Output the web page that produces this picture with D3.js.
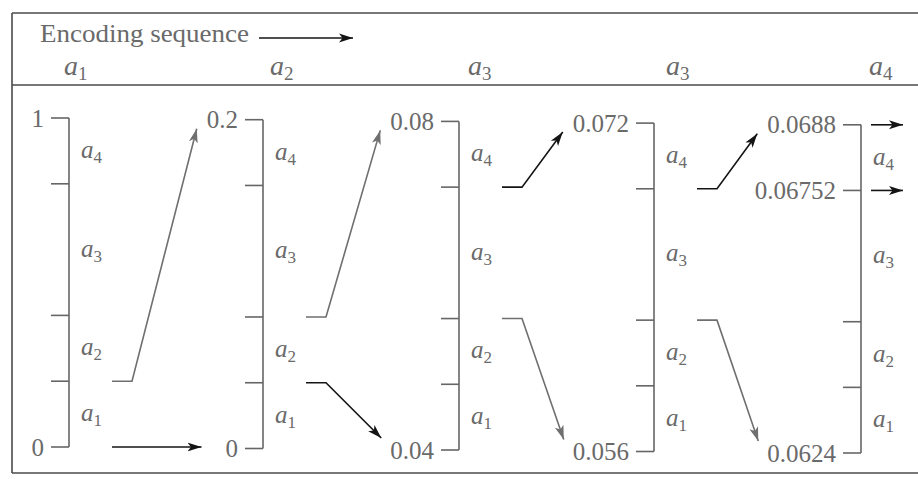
<!DOCTYPE html>
<html><head><meta charset="utf-8">
<script src="https://cdn.jsdelivr.net/npm/d3@7"></script>
<style>html,body{margin:0;padding:0;background:#fff;} svg{display:block;}</style>
</head><body>
<svg id="c" width="918" height="479"></svg>
<script>
// ---------------- data ----------------
const symbolSubs = ["1", "2", "3", "4"];            // a1..a4
const cumProb = [0, 0.2, 0.4, 0.8, 1.0];            // boundaries of a1|a2|a3|a4
const sequence = [1, 2, 3, 3, 4];                   // encoded symbols (subscripts)
const lowValues = [0, 0, 0.04, 0.056, 0.0624];
const highValues = [1, 0.2, 0.08, 0.072, 0.0688];
const lowLabels = ["0", "0", "0.04", "0.056", "0.0624"];
const highLabels = ["1", "0.2", "0.08", "0.072", "0.0688"];
const finalLowValue = 0.06752;
const finalLowLabel = "0.06752";
const headerTitle = "Encoding sequence";

// ---------------- layout ----------------
const svg = d3.select("#c");
const W = 918, H = 479;
const FONT = "'Liberation Serif','Times New Roman',serif";
const frameCol = "#4a4a4a", axisCol = "#666", textCol = "#6a6a6a";
const blackCol = "#141414", grayCol = "#6f6f6f";
const panels = d3.range(lowValues.length);
const xPos = d3.scaleOrdinal().domain(panels).range([69, 263, 459, 654, 861]);
const headX = d3.scaleOrdinal().domain(panels).range([64, 270, 468, 666, 869]);
const topY = i => 118 + 1.7 * i;
const botY = i => 447 + 1.5 * i;
const yScales = panels.map(i => d3.scaleLinear().domain([lowValues[i], highValues[i]]).range([botY(i), topY(i)]));
const TICK = 18, GAP = 7;

// markers
const defs = svg.append("defs");
[["hb", blackCol], ["hg", grayCol]].forEach(([id, c]) => {
  defs.append("marker").attr("id", id).attr("markerUnits", "userSpaceOnUse")
    .attr("viewBox", "0 -6 16 12").attr("markerWidth", 16).attr("markerHeight", 12)
    .attr("refX", 14).attr("refY", 0).attr("orient", "auto")
    .append("path").attr("d", "M0,-4.5 L14,0 L0,4.5 L3.5,0 Z").attr("fill", c);
});

// frame
const frame = svg.append("g").attr("stroke", frameCol).attr("stroke-width", 1.6);
frame.append("line").attr("x1", 12).attr("x2", W).attr("y1", 13).attr("y2", 13);
frame.append("line").attr("x1", 12).attr("x2", W).attr("y1", 85).attr("y2", 85);
frame.append("line").attr("x1", 12).attr("x2", W).attr("y1", 473).attr("y2", 473);
frame.append("line").attr("x1", 12).attr("x2", 12).attr("y1", 13).attr("y2", 473);

// header
svg.append("text").attr("transform", "translate(40,42) scale(1.08,1)")
  .attr("font-family", FONT).attr("font-size", 25).attr("fill", textCol).text(headerTitle);
svg.append("line").attr("x1", 259).attr("x2", 353).attr("y1", 38).attr("y2", 38)
  .attr("stroke", blackCol).attr("stroke-width", 1.6).attr("marker-end", "url(#hb)");

function symLabel(g, x, y, sub, big) {
  const t = g.append("text").attr("x", x).attr("y", y).attr("font-family", FONT).attr("fill", textCol);
  t.append("tspan").attr("font-style", "italic").attr("font-size", big ? 28 : 25).text("a");
  t.append("tspan").attr("font-size", big ? 19 : 17).attr("dy", big ? 5 : 5).text(sub);
  return t;
}
panels.forEach(i => symLabel(svg, headX(i), 75, String(sequence[i]), true));

// panels
const labelBoxes = [];
panels.forEach(i => {
  const g = svg.append("g");
  const y = yScales[i], x0 = xPos(i);
  const lo = lowValues[i], hi = highValues[i];
  const bounds = cumProb.map(p => lo + p * (hi - lo));
  g.append("line").attr("x1", x0).attr("x2", x0).attr("y1", y(hi)).attr("y2", y(lo))
    .attr("stroke", axisCol).attr("stroke-width", 1.6);
  g.selectAll("line.tk").data(bounds).join("line").attr("class", "tk")
    .attr("x1", x0 - TICK).attr("x2", x0).attr("y1", d => y(d)).attr("y2", d => y(d))
    .attr("stroke", axisCol).attr("stroke-width", 1.6);
  const mk = (v, txt) => g.append("text").attr("x", x0 - TICK - GAP).attr("y", y(v)).attr("dy", "0.34em")
    .attr("text-anchor", "end").attr("font-family", FONT).attr("font-size", 25).attr("fill", textCol).text(txt);
  const tHi = mk(hi, highLabels[i]);
  const tLo = mk(lo, lowLabels[i]);
  if (i === panels.length - 1) mk(finalLowValue, finalLowLabel);
  labelBoxes.push({ hi: tHi.node().getBBox(), lo: tLo.node().getBBox() });
  symbolSubs.forEach((s, k) => {
    const mid = (bounds[k] + bounds[k + 1]) / 2;
    symLabel(g, x0 + 12, y(mid) + 7, s, false);
  });
});

// transition arrows
const arrowColors = [["#hg", "#hb"], ["#hg", "#hb"], ["#hb", "#hg"], ["#hb", "#hg"]];
const line = d3.line();
panels.slice(0, -1).forEach(i => {
  const y = yScales[i], x0 = xPos(i), s = sequence[i];
  const w = highValues[i] - lowValues[i];
  const selHi = lowValues[i] + cumProb[s] * w;
  const selLo = lowValues[i] + cumProb[s - 1] * w;
  const nb = labelBoxes[i + 1];
  const [cHi, cLo] = arrowColors[i];
  const col = c => c === "#hb" ? blackCol : grayCol;
  // upper
  svg.append("path").attr("d", line([[x0 + 43, y(selHi)], [x0 + 63, y(selHi)], [nb.hi.x - 10, topY(i + 1) + 9]]))
    .attr("fill", "none").attr("stroke", col(cHi)).attr("stroke-width", 1.6).attr("marker-end", `url(${cHi})`);
  // lower
  if (selLo === lowValues[i]) {
    svg.append("path").attr("d", line([[x0 + 43, y(selLo)], [nb.lo.x - 24, y(selLo)]]))
      .attr("fill", "none").attr("stroke", col(cLo)).attr("stroke-width", 1.6).attr("marker-end", `url(${cLo})`);
  } else {
    svg.append("path").attr("d", line([[x0 + 43, y(selLo)], [x0 + 63, y(selLo)], [nb.lo.x - 9, botY(i + 1) - 12]]))
      .attr("fill", "none").attr("stroke", col(cLo)).attr("stroke-width", 1.6).attr("marker-end", `url(${cLo})`);
  }
});
// final output arrows
const last = panels.length - 1;
[highValues[last], finalLowValue].forEach(v => {
  const yy = yScales[last](v), x0 = xPos(last);
  svg.append("line").attr("x1", x0 + 10).attr("x2", x0 + 42).attr("y1", yy).attr("y2", yy)
    .attr("stroke", blackCol).attr("stroke-width", 1.6).attr("marker-end", "url(#hb)");
});
</script>
</body></html>
